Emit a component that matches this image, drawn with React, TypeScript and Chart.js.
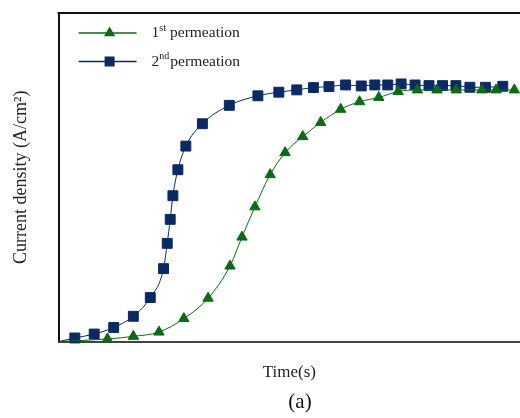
import { useEffect, useRef } from "react";
import { Chart, registerables } from "chart.js";

Chart.register(...registerables);

// 1st permeation (green triangles)
const timeFirst = [0, 490, 750, 1007, 1257, 1500, 1720, 1840, 1970, 2123, 2273, 2450, 2630, 2830, 3020, 3213, 3407, 3600, 3797, 3990, 4247, 4390, 4573];
const currentFirst = [0, 0.8, 1.6, 2.9, 7.0, 13.2, 23.0, 31.8, 41.0, 50.8, 57.5, 62.4, 66.7, 70.7, 73.0, 74.3, 76.1, 76.6, 76.6, 76.6, 76.6, 76.6, 76.6];

// 2nd permeation (navy squares)
const timeSecond = [0, 163, 357, 553, 750, 920, 1053, 1090, 1120, 1147, 1197, 1277, 1443, 1713, 2000, 2210, 2390, 2557, 2713, 2880, 3037, 3173, 3303, 3437, 3577, 3717, 3853, 3987, 4127, 4283, 4457];
const currentSecond = [0, 1.1, 2.3, 4.3, 7.7, 13.4, 22.2, 29.9, 37.2, 44.4, 52.3, 59.5, 66.3, 71.9, 74.8, 75.9, 76.6, 77.3, 77.6, 78.1, 77.8, 78.1, 78.1, 78.4, 78.1, 77.9, 77.9, 77.9, 77.4, 77.4, 77.7];

const legendOrdinals = ["1", "2"];
const legendSuffixes = ["st", "nd"];
const legendWord = "permeation";
const xTitle = "Time(s)";
const yTitle = "Current density (A/cm²)";
const panelLabel = "(a)";

const GREEN = "#0b6b12";
const NAVY = "#0a2a66";
const SERIF = '"Liberation Serif", "Times New Roman", serif';

function toPoints(xs: number[], ys: number[]) {
  return xs.map((x, i) => ({ x, y: ys[i] }));
}

export default function App() {
  const ref = useRef<HTMLCanvasElement | null>(null);

  useEffect(() => {
    if (!ref.current) return;

    const decor = {
      id: "decor",
      afterDraw(chart: any) {
        const ctx = chart.ctx;
        const a = chart.chartArea;
        ctx.save();
        // top frame line
        ctx.strokeStyle = "#111";
        ctx.lineWidth = 2;
        ctx.beginPath();
        ctx.moveTo(a.left - 1, a.top);
        ctx.lineTo(a.right, a.top);
        ctx.stroke();

        // legend
        const rows = [
          { y: a.top + 20, color: GREEN, style: "triangle" },
          { y: a.top + 48.5, color: NAVY, style: "rect" },
        ];
        rows.forEach((r, i) => {
          ctx.strokeStyle = r.color;
          ctx.lineWidth = 1.5;
          ctx.beginPath();
          ctx.moveTo(a.left + 20, r.y);
          ctx.lineTo(a.left + 78, r.y);
          ctx.stroke();
          ctx.fillStyle = r.color;
          const cx = a.left + 51;
          if (r.style === "triangle") {
            const rad = 6.5;
            ctx.beginPath();
            ctx.moveTo(cx, r.y - rad);
            ctx.lineTo(cx + rad * 0.866, r.y + rad / 2);
            ctx.lineTo(cx - rad * 0.866, r.y + rad / 2);
            ctx.closePath();
            ctx.fill();
          } else {
            ctx.fillRect(cx - 5, r.y - 5, 10, 10);
          }
          ctx.fillStyle = "#222";
          ctx.textBaseline = "middle";
          ctx.textAlign = "left";
          ctx.font = `15.5px ${SERIF}`;
          let tx = a.left + 93;
          ctx.fillText(legendOrdinals[i], tx, r.y);
          tx += ctx.measureText(legendOrdinals[i]).width;
          ctx.font = `10px ${SERIF}`;
          ctx.fillText(legendSuffixes[i], tx, r.y - 5);
          tx += ctx.measureText(legendSuffixes[i]).width + (i === 0 ? 4 : 1);
          ctx.font = `15.5px ${SERIF}`;
          ctx.fillText(legendWord, tx, r.y);
        });

        // panel label
        ctx.fillStyle = "#111";
        ctx.font = `21px ${SERIF}`;
        ctx.textAlign = "center";
        ctx.textBaseline = "middle";
        ctx.fillText(panelLabel, 300, 402);
        ctx.restore();
      },
    };

    const chart = new Chart(ref.current, {
      type: "line",
      data: {
        datasets: [
          {
            label: "1st permeation",
            data: toPoints(timeFirst, currentFirst),
            borderColor: GREEN,
            backgroundColor: GREEN,
            borderWidth: 1,
            pointStyle: "triangle",
            pointRadius: (c: any) => (c.dataIndex === 0 ? 0 : 6),
            pointBorderWidth: 1,
            cubicInterpolationMode: "monotone",
            clip: false as any,
          },
          {
            label: "2nd permeation",
            data: toPoints(timeSecond, currentSecond),
            borderColor: NAVY,
            backgroundColor: NAVY,
            borderWidth: 1,
            pointStyle: "rect",
            pointRadius: (c: any) => (c.dataIndex === 0 ? 0 : 7),
            pointBorderWidth: 1,
            cubicInterpolationMode: "monotone",
            clip: false as any,
          },
        ],
      },
      options: {
        responsive: false,
        animation: false,
        layout: { autoPadding: false, padding: { left: 10, top: 13, right: 0, bottom: 35 } },
        plugins: {
          legend: { display: false },
          tooltip: { enabled: false },
        },
        scales: {
          x: {
            type: "linear",
            min: 0,
            max: 4630,
            ticks: { display: false },
            grid: { display: false, drawTicks: false },
            border: { display: true, color: "#444", width: 2 },
            title: {
              display: true,
              text: xTitle,
              color: "#222",
              font: { family: SERIF, size: 17 },
              padding: { top: 21, bottom: 0 },
            },
          },
          y: {
            type: "linear",
            min: 0,
            max: 100,
            ticks: { display: false },
            grid: { display: false, drawTicks: false },
            border: { display: true, color: "#111", width: 2 },
            title: {
              display: true,
              text: yTitle,
              color: "#222",
              font: { family: SERIF, size: 18 },
              padding: { top: 0, bottom: 27 },
            },
          },
        },
      },
      plugins: [decor],
    } as any);

    return () => chart.destroy();
  }, []);

  return (
    <div style={{ position: "absolute", left: 0, top: 0, width: 520, height: 418, background: "#fff" }}>
      <canvas ref={ref} width={520} height={418} />
    </div>
  );
}
